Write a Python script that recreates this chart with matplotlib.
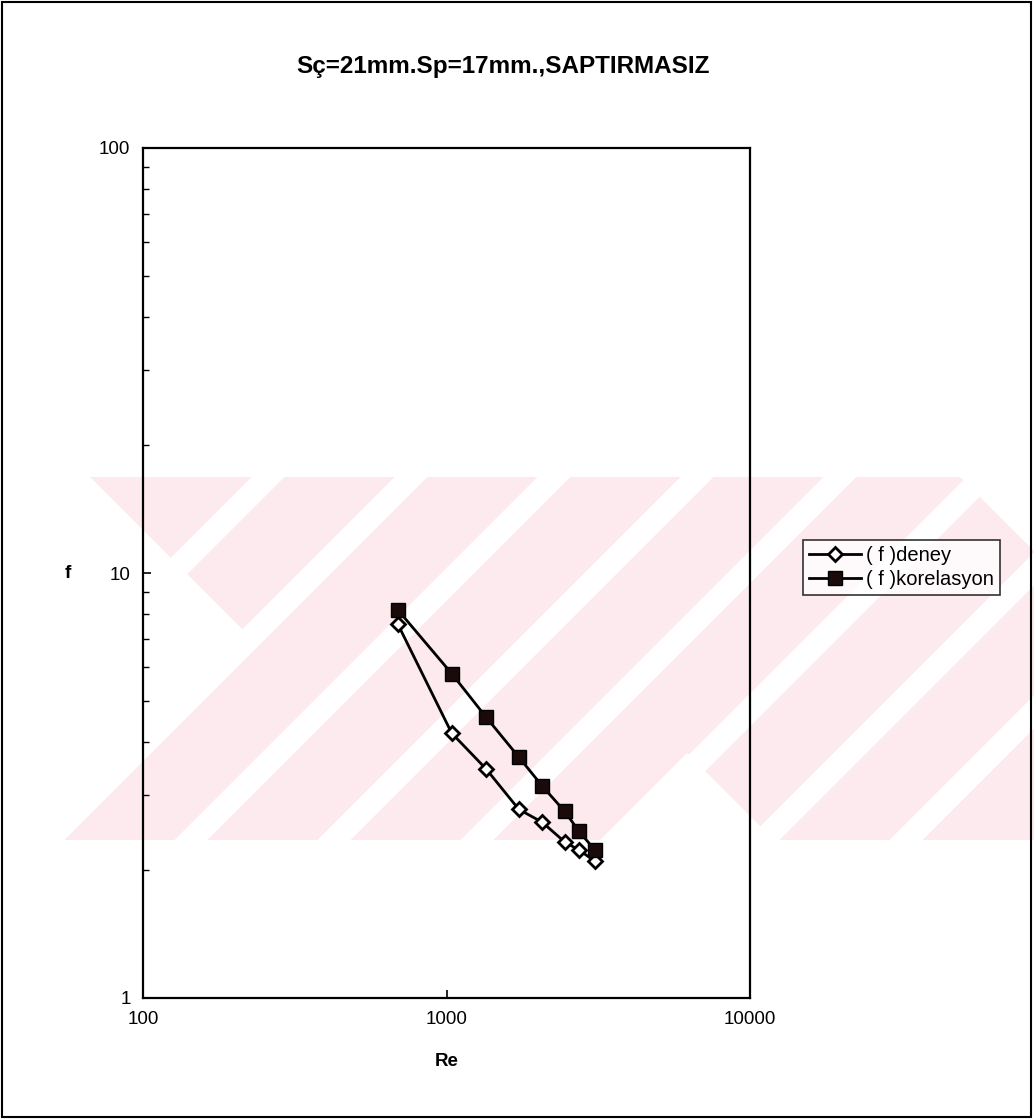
import matplotlib
matplotlib.use("Agg")
import matplotlib.pyplot as plt
from matplotlib.patches import Polygon, Rectangle
from matplotlib.ticker import LogLocator, NullFormatter, FixedLocator, FixedFormatter

plt.rcParams['font.family'] = ['Liberation Sans', 'DejaVu Sans']

# Reynolds numbers and friction factors
re_values = [690, 1040, 1350, 1730, 2070, 2450, 2730, 3080]
f_deney = [7.6, 4.2, 3.46, 2.78, 2.59, 2.33, 2.23, 2.10]
f_korelasyon = [8.2, 5.8, 4.58, 3.69, 3.15, 2.75, 2.47, 2.23]

x_ticks = [100, 1000, 10000]
y_ticks = [1, 10, 100]
title = "Sç=21mm.Sp=17mm.,SAPTIRMASIZ"

W, H = 1034, 1120
fig = plt.figure(figsize=(W / 100, H / 100), dpi=100)
fig.patch.set_facecolor("white")


def fx(px):
    return px / W


def fy(py):
    return 1 - py / H


def fig_poly(pts, color, z):
    poly = Polygon([(fx(a), fy(b)) for a, b in pts], closed=True,
                   transform=fig.transFigure, facecolor=color,
                   edgecolor="none", zorder=z)
    fig.patches.append(poly)


# faint emblem behind the chart: a pale band cut by thin diagonal gaps
pink = "#fceaee"
top, bot = 477, 840
depth = bot - top
fig_poly([(0, top), (W, top), (W, bot), (0, bot)], pink, -4)
gap = 33
for k in range(-3, 5):
    c0 = 697 + 143 * k
    fig_poly([(c0 - gap / 2, top), (c0 + gap / 2, top),
              (c0 + gap / 2 - depth, bot), (c0 - gap / 2 - depth, bot)],
             "white", -3)
# open notches of the emblem outline
fig_poly([(0, top), (90, top), (256.5, 643.5), (60, bot), (0, bot)], "white", -3)
fig_poly([(600, bot), (687, 753), (774, bot)], "white", -3)
fig_poly([(960, top), (1140, top), (1050, 567)], "white", -3)

# outer frame
fig.patches.append(Rectangle((fx(2), fy(1117)), fx(1029), 1115 / H,
                             transform=fig.transFigure, fill=False,
                             edgecolor="black", linewidth=1.5, zorder=1))

ax = fig.add_axes([fx(143), fy(998), fx(750) - fx(143), (998 - 148) / H])
ax.set_facecolor("none")
ax.set_xscale("log")
ax.set_yscale("log")
ax.set_xlim(100, 10000)
ax.set_ylim(1, 100)

ax.plot(re_values, f_deney, color="black", linewidth=2.0, marker="D",
        markersize=7, markerfacecolor="white", markeredgecolor="black",
        markeredgewidth=2.0, label="( f )deney", zorder=3)
ax.plot(re_values, f_korelasyon, color="black", linewidth=2.0, marker="s",
        markersize=9.5, markerfacecolor="#1a0a0a", markeredgecolor="black",
        label="( f )korelasyon", zorder=3)

ax.xaxis.set_major_locator(FixedLocator(x_ticks))
ax.xaxis.set_major_formatter(FixedFormatter([str(v) for v in x_ticks]))
ax.xaxis.set_minor_locator(FixedLocator([]))
ax.yaxis.set_major_locator(FixedLocator(y_ticks))
ax.yaxis.set_major_formatter(FixedFormatter([str(v) for v in y_ticks]))
ax.yaxis.set_minor_locator(LogLocator(base=10, subs=range(2, 10)))
ax.yaxis.set_minor_formatter(NullFormatter())

ax.tick_params(axis="both", which="major", direction="in", length=6,
               width=1.2, labelsize=13.5, pad=9)
ax.tick_params(axis="y", which="minor", direction="in", length=4, width=1)
for s in ax.spines.values():
    s.set_linewidth(1.6)

fig.text(fx(503), fy(67), title, ha="center", va="center",
         fontsize=17.5, fontweight="bold")
fig.text(fx(447), fy(1062), "Re", ha="center", va="center",
         fontsize=13.5, fontweight="bold")
fig.text(fx(68), fy(573), "f", ha="center", va="center",
         fontsize=13.5, fontweight="bold")

leg = ax.legend(loc="upper left", bbox_to_anchor=(fx(803), fy(540)),
                bbox_transform=fig.transFigure, frameon=True, fancybox=False,
                edgecolor="black", fontsize=14.5, handlelength=2.6,
                borderpad=0.3, labelspacing=0.25, handletextpad=0.25,
                borderaxespad=0)
leg.get_frame().set_linewidth(1.2)

fig.savefig("out.png", dpi=100, facecolor="white")
